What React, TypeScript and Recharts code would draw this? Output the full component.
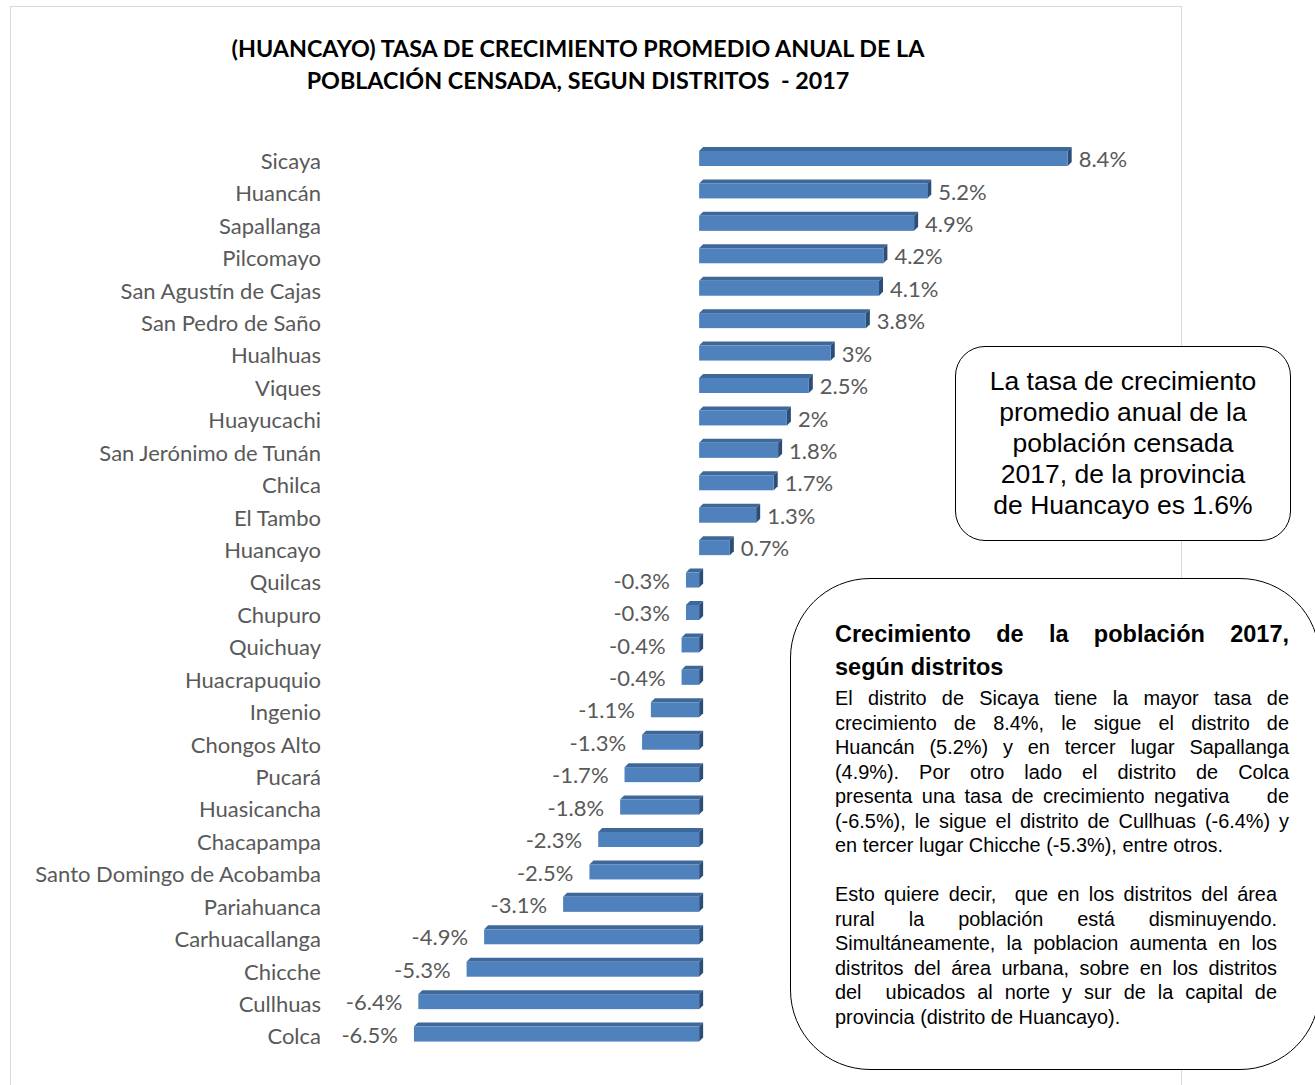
import React from 'react';
import { BarChart, Bar, XAxis, YAxis, LabelList } from 'recharts';

const districts = [
  'Sicaya', 'Huancán', 'Sapallanga', 'Pilcomayo', 'San Agustín de Cajas', 'San Pedro de Saño',
  'Hualhuas', 'Viques', 'Huayucachi', 'San Jerónimo de Tunán', 'Chilca', 'El Tambo', 'Huancayo',
  'Quilcas', 'Chupuro', 'Quichuay', 'Huacrapuquio', 'Ingenio', 'Chongos Alto', 'Pucará',
  'Huasicancha', 'Chacapampa', 'Santo Domingo de Acobamba', 'Pariahuanca', 'Carhuacallanga',
  'Chicche', 'Cullhuas', 'Colca',
];
const rates = [
  8.4, 5.2, 4.9, 4.2, 4.1, 3.8, 3, 2.5, 2, 1.8, 1.7, 1.3, 0.7, -0.3, -0.3, -0.4, -0.4, -1.1,
  -1.3, -1.7, -1.8, -2.3, -2.5, -3.1, -4.9, -5.3, -6.4, -6.5,
];

const titleLines = [
  '(HUANCAYO) TASA DE CRECIMIENTO PROMEDIO ANUAL DE LA',
  'POBLACIÓN CENSADA, SEGUN DISTRITOS  - 2017',
];
const noteLines = [
  'La tasa de crecimiento',
  'promedio anual de la',
  'población censada',
  '2017, de la provincia',
  'de Huancayo es 1.6%',
];
const boxHeading = ['Crecimiento de la población 2017,', 'según distritos'];
const boxPara1 = [
  'El distrito de Sicaya tiene la mayor tasa de',
  'crecimiento de 8.4%, le sigue el distrito de',
  'Huancán (5.2%) y en tercer lugar Sapallanga',
  '(4.9%). Por otro lado el distrito de Colca',
  'presenta una tasa de crecimiento negativa\u00a0\u00a0\u00a0 de',
  '(-6.5%), le sigue el distrito de Cullhuas (-6.4%) y',
  'en tercer lugar Chicche (-5.3%), entre otros.',
];
const boxPara2 = [
  'Esto quiere decir,\u00a0 que en los distritos del área',
  'rural la población está disminuyendo.',
  'Simultáneamente, la poblacion aumenta en los',
  'distritos del área urbana, sobre en los distritos',
  'del\u00a0 ubicados al norte y sur de la capital de',
  'provincia (distrito de Huancayo).',
];

const data = districts.map((name, i) => ({ name, rate: rates[i] }));

const FONT = 'Lato, "Open Sans", sans-serif';
const ARIAL = '"Liberation Sans", Arial, sans-serif';
const GRAY = '#595959';

function Bar3D(props: any) {
  const { x, y, width, height } = props;
  const left = Math.min(x, x + width);
  const w = Math.abs(width);
  const d = 4;
  const r = left + w;
  return (
    <g>
      <polygon points={`${left},${y} ${left + d},${y - d} ${r + d},${y - d} ${r},${y}`} fill="#3d6899" />
      <polygon points={`${r},${y} ${r + d},${y - d} ${r + d},${y + height - d} ${r},${y + height}`} fill="#2c4d75" />
      <rect x={left} y={y} width={w} height={height} fill="#4f81bd" />
    </g>
  );
}

function ValueLabel(props: any) {
  const { x, y, width, height, value } = props;
  const left = Math.min(x, x + width);
  const right = Math.max(x, x + width);
  const neg = value < 0;
  return (
    <text
      x={neg ? left - 16 : right + 11}
      y={y + height / 2 + 3}
      textAnchor={neg ? 'end' : 'start'}
      dominantBaseline="middle"
      fontFamily={FONT}
      fontSize={22}
      fill={GRAY}
    >
      {`${value}%`}
    </text>
  );
}

function CategoryTick(props: any) {
  const { x, y, payload } = props;
  return (
    <text x={x - 63} y={y + 5} textAnchor="end" dominantBaseline="middle" fontFamily={FONT} fontSize={22} fill={GRAY}>
      {payload.value}
    </text>
  );
}

const justifyLine = (text: string, last: boolean) => (
  <div key={text} style={{ textAlign: last ? 'left' : 'justify', textAlignLast: last ? 'left' : 'justify', whiteSpace: 'pre' }}>
    {text}
  </div>
);

export default function App() {
  return (
    <div style={{ position: 'absolute', left: 0, top: 0, width: 1315, height: 1085, overflow: 'hidden', background: '#fff' }}>
      <div style={{ position: 'absolute', left: 10, top: 6, width: 1172, height: 1100, border: '1px solid #d9d9d9', boxSizing: 'border-box' }} />
      <div style={{ position: 'absolute', left: 0, top: 0 }}>
        <BarChart
          width={1315}
          height={1085}
          data={data}
          layout="vertical"
          margin={{ top: 142, right: 221, bottom: 35, left: 0 }}
          barSize={15}
        >
          <XAxis type="number" domain={[-7, 9]} hide />
          <YAxis type="category" dataKey="name" width={392} axisLine={false} tickLine={false} tick={<CategoryTick />} interval={0} />
          <Bar dataKey="rate" shape={<Bar3D />} isAnimationActive={false}>
            <LabelList dataKey="rate" content={<ValueLabel />} />
          </Bar>
        </BarChart>
      </div>
      <div style={{ position: 'absolute', left: 0, width: 1156, top: 32, textAlign: 'center', fontFamily: FONT, fontWeight: 700, fontSize: 23.3, lineHeight: '32px', color: '#000', whiteSpace: 'pre' }}>
        {titleLines.map((t) => <div key={t}>{t}</div>)}
      </div>
      <div style={{ position: 'absolute', left: 955, top: 346, width: 336, height: 195, border: '1px solid #000', borderRadius: 30, background: '#fff', boxSizing: 'border-box', display: 'flex', flexDirection: 'column', justifyContent: 'center', alignItems: 'center', fontFamily: ARIAL, fontSize: 26.5, lineHeight: '31px', color: '#000' }}>
        {noteLines.map((t) => <div key={t}>{t}</div>)}
      </div>
      <div style={{ position: 'absolute', left: 790, top: 578, width: 530, height: 492, border: '1px solid #000', borderRadius: 80, background: '#fff', boxSizing: 'border-box' }} />
      <div style={{ position: 'absolute', left: 835, top: 618, width: 454, fontFamily: ARIAL, color: '#000' }}>
        <div style={{ fontWeight: 700, fontSize: 23.5, lineHeight: '33px' }}>
          {boxHeading.map((t, i) => justifyLine(t, i === boxHeading.length - 1))}
        </div>
        <div style={{ fontSize: 19.9, lineHeight: '24.5px', marginTop: 2 }}>
          {boxPara1.map((t, i) => justifyLine(t, i === boxPara1.length - 1))}
          <div style={{ height: 24.5 }} />
          <div style={{ width: 442 }}>
            {boxPara2.map((t, i) => justifyLine(t, i === boxPara2.length - 1))}
          </div>
        </div>
      </div>
    </div>
  );
}
